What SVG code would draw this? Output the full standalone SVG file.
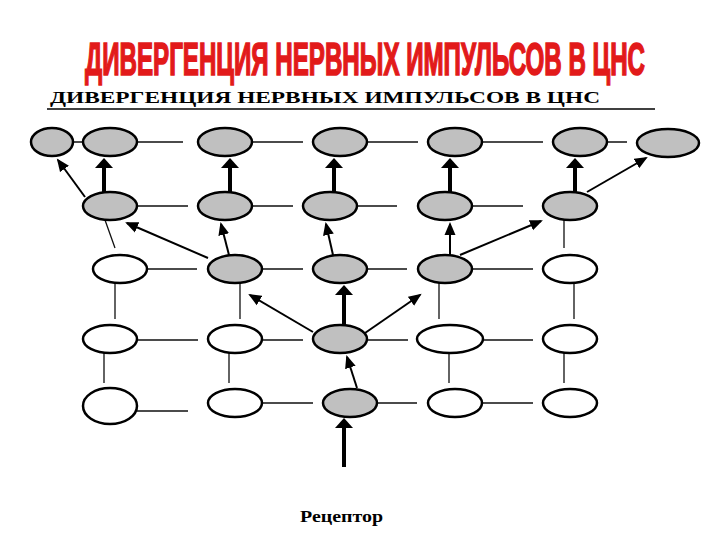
<svg xmlns="http://www.w3.org/2000/svg" width="720" height="540" viewBox="0 0 720 540">
<style>
.n ellipse{stroke:#000;stroke-width:2.5}
.g{fill:#c0c0c0}
.w{fill:#fff}
.ln{stroke:#111;stroke-width:1.3;fill:none}
.ar{stroke:#000;stroke-width:2;fill:none;marker-end:url(#ah)}
.th{stroke:#000;stroke-width:4;fill:none;marker-end:url(#aT)}
</style>
<defs>
<marker id="ah" markerUnits="userSpaceOnUse" viewBox="0 0 14 12" markerWidth="14" markerHeight="12" refX="11" refY="6" orient="auto">
<path d="M0,0.5 L13,6 L0,11.5 Z" fill="#000"/>
</marker>
<marker id="aT" markerUnits="userSpaceOnUse" viewBox="0 0 10 18" markerWidth="10" markerHeight="18" refX="6" refY="9" orient="auto">
<path d="M0,0 L10,9 L0,18 Z" fill="#000"/>
</marker>
</defs>
<rect width="720" height="540" fill="#fff"/>
<g transform="translate(85,75) scale(1,1.92)">
<text x="0" y="0" font-family="Liberation Sans, Arial, sans-serif" font-weight="bold" font-size="24" textLength="560" lengthAdjust="spacingAndGlyphs" fill="#e21a1a" stroke="#e21a1a" stroke-width="0.9">ДИВЕРГЕНЦИЯ НЕРВНЫХ ИМПУЛЬСОВ В ЦНС</text>
</g>
<text x="50" y="103" font-family="Liberation Serif, Times New Roman, serif" font-weight="bold" font-size="17" textLength="550" lengthAdjust="spacingAndGlyphs" fill="#000">ДИВЕРГЕНЦИЯ НЕРВНЫХ ИМПУЛЬСОВ В ЦНС</text>
<line x1="47" y1="109" x2="655" y2="109" stroke="#000" stroke-width="1.5"/>
<g id="connectors">
<path class="ln" d="M73,142H83 M137,142H183 M252,142H303 M367,142H418 M482,142H543 M607,142H627"/>
<path class="ln" d="M137,206H188 M252,206H293 M356,206H397 M471,206H523"/>
<path class="ln" d="M147,269H197 M262,269H303 M367,269H407 M471,269H533"/>
<path class="ln" d="M137,340H198 M262,340H303 M367,340H408 M483,340H533"/>
<path class="ln" d="M137,411H188 M262,403H313 M376,403H417 M482,403H533"/>
<path class="ln" d="M105,220L115,248 M564,220V248 M115,283V319 M240,283V319 M439,283V319 M574,283V319 M104,353V383 M229,353V383 M449,353V383 M564,353V383"/>
<line class="ar" x1="85" y1="197" x2="58" y2="160"/>
<line class="ar" x1="587" y1="192" x2="646" y2="158"/>
<line class="ar" x1="208" y1="258" x2="127" y2="223"/>
<line class="ar" x1="229" y1="255" x2="221" y2="224"/>
<line class="ar" x1="333" y1="255" x2="326" y2="224"/>
<line class="ar" x1="450" y1="255" x2="450" y2="224"/>
<line class="ar" x1="460" y1="255" x2="541" y2="221"/>
<line class="ar" x1="313" y1="332" x2="250" y2="295"/>
<line class="ar" x1="365" y1="333" x2="420" y2="295"/>
<line class="ar" x1="357" y1="388" x2="347" y2="357"/>
<line class="th" x1="104" y1="192" x2="104" y2="162"/>
<line class="th" x1="230" y1="192" x2="230" y2="162"/>
<line class="th" x1="334" y1="192" x2="334" y2="162"/>
<line class="th" x1="450" y1="192" x2="450" y2="162"/>
<line class="th" x1="575" y1="192" x2="575" y2="162"/>
<line class="th" x1="344" y1="325" x2="344" y2="289"/>
<line class="th" x1="344" y1="467" x2="344" y2="422"/>
</g>
<g class="n">
<g id="A1"><ellipse class="g" cx="52" cy="142" rx="21" ry="14"/></g>
<g id="A2"><ellipse class="g" cx="110" cy="142" rx="27" ry="14"/></g>
<g id="A3"><ellipse class="g" cx="225" cy="142" rx="27" ry="14"/></g>
<g id="A4"><ellipse class="g" cx="340" cy="142" rx="27" ry="14"/></g>
<g id="A5"><ellipse class="g" cx="455" cy="142" rx="27" ry="14"/></g>
<g id="A6"><ellipse class="g" cx="580" cy="142" rx="27" ry="14"/></g>
<g id="A7"><ellipse class="g" cx="668" cy="143" rx="31" ry="14"/></g>
<g id="B1"><ellipse class="g" cx="110" cy="206" rx="27" ry="14"/></g>
<g id="B2"><ellipse class="g" cx="225" cy="206" rx="27" ry="14"/></g>
<g id="B3"><ellipse class="g" cx="330" cy="206" rx="27" ry="14"/></g>
<g id="B4"><ellipse class="g" cx="445" cy="206" rx="27" ry="14"/></g>
<g id="B5"><ellipse class="g" cx="570" cy="206" rx="27" ry="14"/></g>
<g id="C1"><ellipse class="w" cx="120" cy="269" rx="27" ry="14"/></g>
<g id="C2"><ellipse class="g" cx="235" cy="269" rx="27" ry="14"/></g>
<g id="C3"><ellipse class="g" cx="340" cy="269" rx="27" ry="14"/></g>
<g id="C4"><ellipse class="g" cx="445" cy="269" rx="27" ry="14"/></g>
<g id="C5"><ellipse class="w" cx="570" cy="269" rx="27" ry="14"/></g>
<g id="D1"><ellipse class="w" cx="110" cy="339" rx="27" ry="14"/></g>
<g id="D2"><ellipse class="w" cx="235" cy="339" rx="27" ry="14"/></g>
<g id="D3"><ellipse class="g" cx="340" cy="339" rx="27" ry="14"/></g>
<g id="D4"><ellipse class="w" cx="450" cy="339" rx="33" ry="14"/></g>
<g id="D5"><ellipse class="w" cx="570" cy="339" rx="27" ry="14"/></g>
<g id="E1"><ellipse class="w" cx="110" cy="406" rx="27" ry="18"/></g>
<g id="E2"><ellipse class="w" cx="235" cy="403" rx="27" ry="14"/></g>
<g id="E3"><ellipse class="g" cx="350" cy="403" rx="27" ry="14"/></g>
<g id="E4"><ellipse class="w" cx="455" cy="403" rx="27" ry="14"/></g>
<g id="E5"><ellipse class="w" cx="570" cy="403" rx="27" ry="14"/></g>
</g>
<g id="receptor"><text x="300" y="522" font-family="Liberation Serif, Times New Roman, serif" font-weight="bold" font-size="16" textLength="83" lengthAdjust="spacingAndGlyphs" fill="#000">Рецептор</text></g>
</svg>
